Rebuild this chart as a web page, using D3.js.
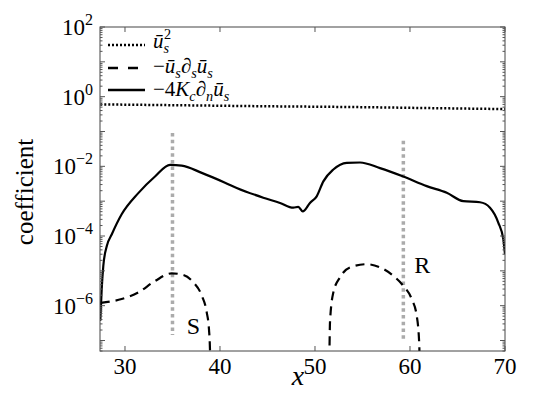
<!DOCTYPE html>
<html>
<head>
<meta charset="utf-8"/>
<style>
  body { margin: 0; background: #fff; }
  svg text { font-family: "Liberation Serif", "Times New Roman", Times, serif; }
</style>
</head>
<body>
<svg id="chart" width="549" height="393"></svg>
<script src="https://cdn.jsdelivr.net/npm/d3@7"></script>
<script>
// values
const usqX = [27.4, 35, 45, 55, 62, 70];
const usqY = [0.60, 0.57, 0.53, 0.50, 0.47, 0.44];

// -4 Kc dn us (solid)
const curvX = [27.40, 27.55, 27.72, 28.08, 28.6, 29.65, 31.4, 33.16, 34.74, 35.97, 38.08, 40.53, 41.76, 44.56,
  46.32, 47.72, 48.24, 48.71, 49.47, 50.18, 50.88, 51.93, 53.34, 54.74, 56.84, 59.3, 61.76, 63.87, 65.61,
  67.37, 68.42, 69.3, 69.82, 70.0];
const curvY = [3.7e-7, 3.0e-6, 1.4e-5, 5.1e-5, 1.1e-4, 4.2e-4, 1.7e-3, 5.1e-3, 1.1e-2, 1.05e-2, 6.5e-3, 3.4e-3, 2.4e-3, 1.26e-3,
  8.9e-4, 6.5e-4, 6.9e-4, 5.1e-4, 8.9e-4, 1.38e-3, 3.7e-3, 8.1e-3, 1.26e-2, 1.29e-2, 8.9e-3, 5.1e-3, 2.7e-3, 1.74e-3, 1.0e-3,
  9.3e-4, 6.5e-4, 2.4e-4, 8.1e-5, 3.0e-5];

// -us ds us (dashed), null = gap where it is negative
const advX = [27.45, 29.65, 31.4, 33.16, 34.92, 36.14, 37.19, 38.08, 38.6, 38.84, 38.95, 38.98, null,
  51.45, 51.52, 51.58, 51.93, 52.63, 53.68, 55.44, 56.84, 58.24, 59.3, 60.18, 60.71, 60.98, 61.02];
const advY = [1.2e-6, 1.55e-6, 2.4e-6, 5.1e-6, 8.5e-6, 7.6e-6, 4.7e-6, 1.95e-6, 6.5e-7, 2.1e-7, 5e-8, 1e-8, null,
  1e-8, 5e-8, 3.4e-7, 2.4e-6, 6.5e-6, 1.26e-5, 1.55e-5, 1.26e-5, 7.2e-6, 3.7e-6, 1.55e-6, 5.1e-7, 7.2e-8, 1e-8];

// gray markers S and R
const markX = [35, 59.3];
const markTop = [0.09, 0.054];
const markBottom = [1.45e-7, 1.1e-7];
const markLabels = ["S", "R"];
const markLabelX = [37.2, 61.3];
const markLabelY = [2.6e-7, 1.5e-5];

const xTicks = [30, 40, 50, 60, 70];
const yTicks = [-6, -4, -2, 0, 2];   // exponents

const width = 549, height = 393;
const margin = {top: 27, right: 44, bottom: 42, left: 100};
const x0 = margin.left, x1 = width - margin.right;
const y0 = height - margin.bottom, y1 = margin.top;

const svg = d3.select("#chart");

const xScale = d3.scaleLinear().domain([27.37, 70]).range([x0, x1]);
const yScale = d3.scaleLog().domain([5e-8, 100]).range([y0, y1]);

svg.append("defs").append("clipPath").attr("id", "clip")
  .append("rect").attr("x", x0).attr("y", y1).attr("width", x1 - x0).attr("height", y0 - y1);

const plot = svg.append("g").attr("clip-path", "url(#clip)");

// gray vertical markers
markX.forEach(function(m, i) {
  plot.append("line")
    .attr("x1", xScale(m)).attr("x2", xScale(m))
    .attr("y1", yScale(markTop[i])).attr("y2", yScale(markBottom[i]))
    .attr("stroke", "#ababab").attr("stroke-width", 3.5)
    .attr("stroke-dasharray", "3.5,3.2");
});

const line = d3.line()
  .defined(function(d) { return d[0] !== null && d[1] !== null; })
  .x(function(d) { return xScale(d[0]); })
  .y(function(d) { return yScale(d[1]); })
  .curve(d3.curveMonotoneX);

plot.append("path").datum(d3.zip(usqX, usqY))
  .attr("d", line).attr("fill", "none").attr("stroke", "#000")
  .attr("stroke-width", 2.5).attr("stroke-dasharray", "2,2");

plot.append("path").datum(d3.zip(curvX, curvY))
  .attr("d", line).attr("fill", "none").attr("stroke", "#000")
  .attr("stroke-width", 2.2);

plot.append("path").datum(d3.zip(advX, advY))
  .attr("d", line).attr("fill", "none").attr("stroke", "#000")
  .attr("stroke-width", 2.2).attr("stroke-dasharray", "9,6");

markLabels.forEach(function(t, i) {
  svg.append("text")
    .attr("x", xScale(markLabelX[i])).attr("y", yScale(markLabelY[i]))
    .attr("text-anchor", "middle").attr("dominant-baseline", "central")
    .attr("font-size", 24).text(t);
});

// frame
svg.append("rect").attr("x", x0).attr("y", y1).attr("width", x1 - x0).attr("height", y0 - y1)
  .attr("fill", "none").attr("stroke", "#444").attr("stroke-width", 1);

// ticks (pointing inward, mirrored on all sides)
const ax = svg.append("g").attr("stroke", "#555").attr("stroke-width", 1);
xTicks.forEach(function(t) {
  const px = xScale(t);
  ax.append("line").attr("x1", px).attr("x2", px).attr("y1", y0).attr("y2", y0 - 5);
  ax.append("line").attr("x1", px).attr("x2", px).attr("y1", y1).attr("y2", y1 + 5);
});
for (let e = -8; e <= 2; e++) {
  for (let k = 1; k <= 9; k++) {
    const v = k * Math.pow(10, e);
    if (v < 5e-8 || v > 100) continue;
    const py = yScale(v);
    const len = k === 1 ? 5 : 2.5;
    ax.append("line").attr("x1", x0).attr("x2", x0 + len).attr("y1", py).attr("y2", py);
    ax.append("line").attr("x1", x1).attr("x2", x1 - len).attr("y1", py).attr("y2", py);
  }
}

// tick labels
xTicks.forEach(function(t) {
  svg.append("text").attr("x", xScale(t)).attr("y", y0 + 23)
    .attr("text-anchor", "middle").attr("font-size", 23).text(t);
});
yTicks.forEach(function(e) {
  const tx = svg.append("text").attr("x", x0 - 7).attr("y", yScale(Math.pow(10, e)) + 8)
    .attr("text-anchor", "end").attr("font-size", 23);
  tx.append("tspan").text("10");
  tx.append("tspan").attr("dy", -10).attr("font-size", 16).text(e < 0 ? "\u2212" + (-e) : String(e));
});

// axis labels
svg.append("text").attr("x", 298).attr("y", 385).attr("text-anchor", "middle")
  .attr("font-size", 28).attr("font-style", "italic").text("x");
svg.append("text").attr("transform", "translate(33,192) rotate(-90)")
  .attr("text-anchor", "middle").attr("font-size", 25).text("coefficient");

// legend: one text element per entry, tspans for sub/superscripts
function mathText(g, x, y, parts, size) {
  const t = g.append("text").attr("x", x).attr("y", y).attr("font-size", size);
  let level = 0;
  parts.forEach(function(p) {
    const target = p.s === "sub" ? size * 0.22 : (p.s === "sup" ? -size * 0.42 : 0);
    const ts = t.append("tspan").attr("dy", target - level)
      .attr("font-size", p.s === "n" ? size : size * 0.68)
      .attr("font-style", p.i ? "italic" : "normal").text(p.t);
    if (p.back) ts.attr("dx", -p.back);
    level = target;
  });
}

const leg = svg.append("g");
const legY = [45, 68, 90];
leg.append("line").attr("x1", 108).attr("x2", 145).attr("y1", legY[0]).attr("y2", legY[0])
  .attr("stroke", "#000").attr("stroke-width", 2.5).attr("stroke-dasharray", "2,2");
leg.append("line").attr("x1", 108).attr("x2", 138).attr("y1", legY[1]).attr("y2", legY[1])
  .attr("stroke", "#000").attr("stroke-width", 2.5).attr("stroke-dasharray", "10,10");
leg.append("line").attr("x1", 108).attr("x2", 145).attr("y1", legY[2]).attr("y2", legY[2])
  .attr("stroke", "#000").attr("stroke-width", 2.5);

mathText(leg, 153, legY[0] + 3, [
  {t: "\u016B", s: "n", i: true}, {t: "s", s: "sub", i: true}, {t: "2", s: "sup", back: 5}], 21);
mathText(leg, 153, legY[1] + 5, [
  {t: "\u2212", s: "n"}, {t: "\u016B", s: "n", i: true}, {t: "s", s: "sub", i: true},
  {t: "\u2202", s: "n", i: true}, {t: "s", s: "sub", i: true},
  {t: "\u016B", s: "n", i: true}, {t: "s", s: "sub", i: true}], 21);
mathText(leg, 153, legY[2] + 6, [
  {t: "\u22124", s: "n"}, {t: "K", s: "n", i: true}, {t: "c", s: "sub", i: true},
  {t: "\u2202", s: "n", i: true}, {t: "n", s: "sub", i: true},
  {t: "\u016B", s: "n", i: true}, {t: "s", s: "sub", i: true}], 21);
</script>
</body>
</html>
